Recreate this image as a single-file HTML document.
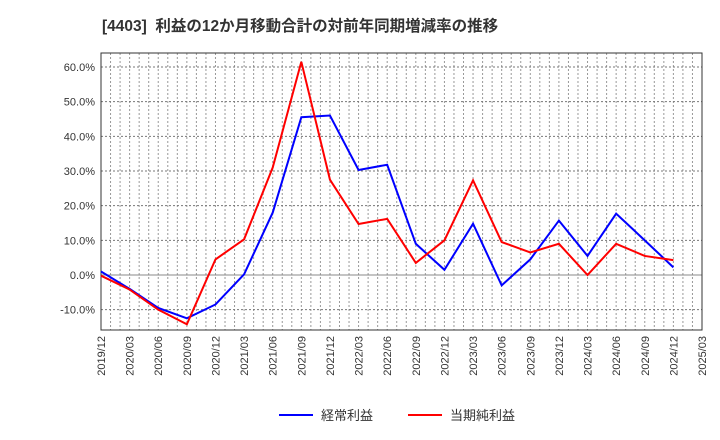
<!DOCTYPE html>
<html><head><meta charset="utf-8"><style>
body{margin:0;background:#fff}
svg{display:block;font-family:"Liberation Sans","Noto Sans CJK JP",sans-serif}
</style></head><body>
<svg id="c" width="720" height="440"></svg>
<script>
const categories=["2019/12","2020/03","2020/06","2020/09","2020/12","2021/03","2021/06","2021/09","2021/12","2022/03","2022/06","2022/09","2022/12","2023/03","2023/06","2023/09","2023/12","2024/03","2024/06","2024/09","2024/12","2025/03"];
const ordinaryProfit=[1.0,-4,-9.5,-12.5,-8.5,0.2,18,45.5,46,30.3,31.8,9,1.5,14.8,-3,4.5,15.7,5.5,17.7,10,2.2];
const netProfit=[-0.2,-4.2,-10,-14.2,4.5,10.3,31,61.5,27.5,14.7,16.2,3.5,10,27.3,9.5,6.5,9,0,9,5.5,4.3];
const yTicks=[-10,0,10,20,30,40,50,60];
const NS="http://www.w3.org/2000/svg";
const svg=document.getElementById('c');
const L=101,R=702,T=53,B=330;
const x=i=>L+(R-L)*i/(categories.length-1);
const y=v=>275-v*208/60;
function el(t,a,p){const e=document.createElementNS(NS,t);for(const k in a)e.setAttribute(k,a[k]);(p||svg).appendChild(e);return e;}
const title=el('text',{x:102,y:31,'font-size':15.5,'font-weight':'bold',fill:'#333',style:'white-space:pre'});


title.textContent='[4403]  利益の12か月移動合計の対前年同期増減率の推移';
for(let m=1;m<(categories.length-1)*3;m++){const xx=L+(R-L)*m/((categories.length-1)*3);
const g=el('line',{x1:xx,x2:xx,y1:T,y2:B,stroke:'#999','stroke-dasharray':'2,2','stroke-width':1});

}
yTicks.forEach(v=>{const g=el('line',{x1:L,x2:R,y1:y(v),y2:y(v),stroke:v===0?'#888':'#777','stroke-dasharray':v===0?'':'2,2','stroke-width':1});


const t=el('text',{x:L-6,y:y(v)+4,'text-anchor':'end','font-size':11,fill:'#333'});


t.textContent=v.toFixed(1)+'%';});
const fr=el('rect',{x:L,y:T,width:R-L,height:B-T,fill:'none',stroke:'#333'});


categories.forEach((c,i)=>{const t=el('text',{transform:`translate(${x(i)+4},${B+6}) rotate(-90)`,'text-anchor':'end','font-size':11,fill:'#333'});


t.textContent=c;});
function line(d,col,name){const p=el('polyline',{points:d.map((v,i)=>x(i)+','+y(v)).join(' '),fill:'none',stroke:col,'stroke-width':2});

}
line(ordinaryProfit,'#0000ff','ordinary-profit-line');
line(netProfit,'#ff0000','net-profit-line');
function leg(x0,col,txt,name){const g=el('g',{});


el('line',{x1:x0,x2:x0+34,y1:415,y2:415,stroke:col,'stroke-width':2},g);
const t=el('text',{x:x0+42,y:420,'font-size':13,fill:'#333'},g);t.textContent=txt;}
leg(279,'#0000ff','経常利益','legend-ordinary-profit');
leg(408,'#ff0000','当期純利益','legend-net-profit');
</script></body></html>
